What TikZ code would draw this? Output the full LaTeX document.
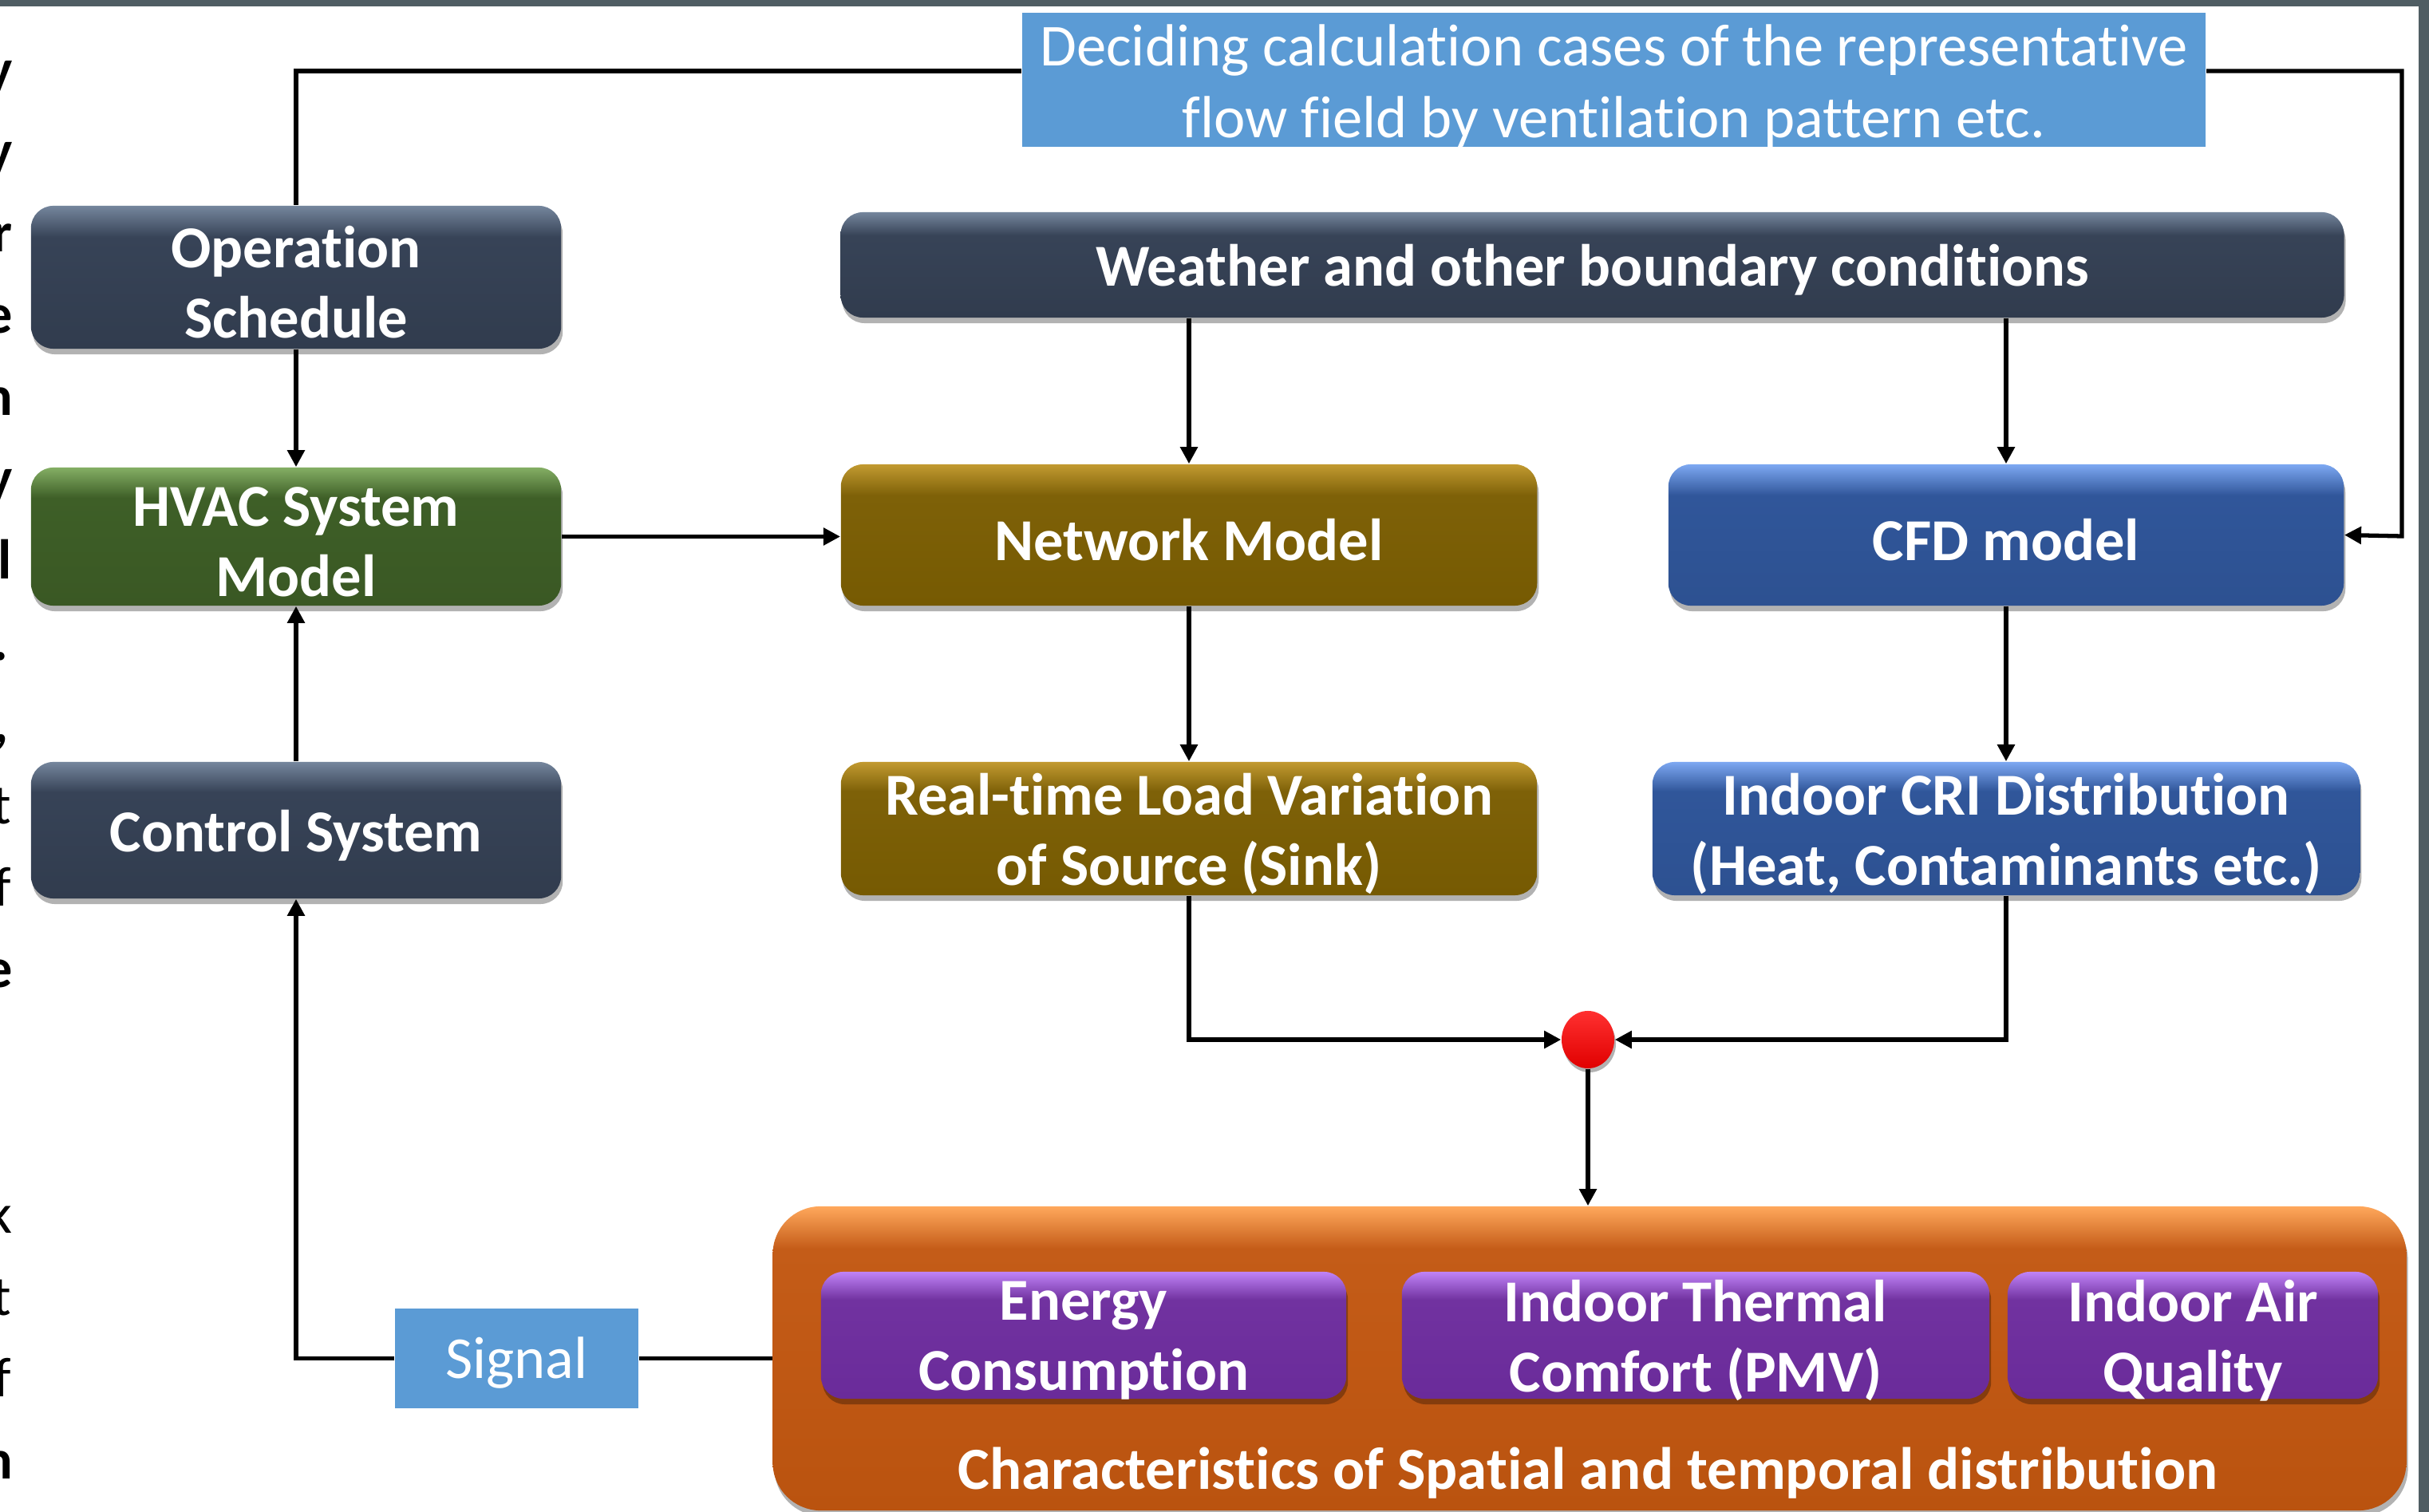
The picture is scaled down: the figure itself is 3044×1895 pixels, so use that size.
\documentclass[tikz,border=0pt]{standalone}
\usepackage{fontspec}
\setmainfont{Carlito}[Ligatures=NoCommon]
\usetikzlibrary{shadows,arrows.meta,shapes.geometric}

\definecolor{slateD}{HTML}{313C4E}
\definecolor{slateM}{HTML}{374357}
\definecolor{slateL}{HTML}{75869D}
\definecolor{greenD}{HTML}{3A5824}
\definecolor{greenM}{HTML}{3E5F27}
\definecolor{greenL}{HTML}{84AE64}
\definecolor{goldD}{HTML}{765A02}
\definecolor{goldM}{HTML}{7E6108}
\definecolor{goldL}{HTML}{C29A30}
\definecolor{blueD}{HTML}{2D5191}
\definecolor{blueM}{HTML}{30569A}
\definecolor{blueL}{HTML}{7DA8F2}
\definecolor{orangeD}{HTML}{BA530F}
\definecolor{orangeM}{HTML}{C45C18}
\definecolor{orangeL}{HTML}{FFA85C}
\definecolor{purpleD}{HTML}{6A2B9A}
\definecolor{purpleM}{HTML}{7132A0}
\definecolor{purpleL}{HTML}{C083F7}
\definecolor{flatblue}{HTML}{5B9BD5}
\definecolor{framegray}{HTML}{4F5D63}
\definecolor{dotL}{HTML}{FF3030}
\definecolor{dotD}{HTML}{E00000}

\pgfdeclareverticalshading{slateSh}{100bp}{color(0bp)=(slateD); color(25bp)=(slateD); color(64bp)=(slateM); color(75bp)=(slateL); color(100bp)=(slateL)}
\pgfdeclareverticalshading{greenSh}{100bp}{color(0bp)=(greenD); color(25bp)=(greenD); color(64bp)=(greenM); color(75bp)=(greenL); color(100bp)=(greenL)}
\pgfdeclareverticalshading{goldSh}{100bp}{color(0bp)=(goldD); color(25bp)=(goldD); color(64bp)=(goldM); color(75bp)=(goldL); color(100bp)=(goldL)}
\pgfdeclareverticalshading{blueSh}{100bp}{color(0bp)=(blueD); color(25bp)=(blueD); color(64bp)=(blueM); color(75bp)=(blueL); color(100bp)=(blueL)}
\pgfdeclareverticalshading{orangeSh}{100bp}{color(0bp)=(orangeD); color(25bp)=(orangeD); color(68bp)=(orangeM); color(75bp)=(orangeL); color(100bp)=(orangeL)}
\pgfdeclareverticalshading{purpleSh}{100bp}{color(0bp)=(purpleD); color(25bp)=(purpleD); color(64bp)=(purpleM); color(75bp)=(purpleL); color(100bp)=(purpleL)}

\begin{document}
\begin{tikzpicture}[x=0.01cm,y=-0.01cm,
  box/.style={rectangle, rounded corners=0.28cm, inner sep=0pt,
    drop shadow={shadow xshift=0.02cm, shadow yshift=-0.07cm, opacity=0.3, fill=black}},
  slatebox/.style={box, shade, shading=slateSh},
  greenbox/.style={box, shade, shading=greenSh},
  goldbox/.style={box, shade, shading=goldSh},
  bluebox/.style={box, shade, shading=blueSh},
  purplebox/.style={box, shade, shading=purpleSh},
  flatbox/.style={rectangle, fill=flatblue, inner sep=0pt},
  btxt/.style={inner sep=0pt, align=center, text=white, yshift=-0.065cm,
    font=\bfseries\fontsize{21.2}{25}\selectfont},
  rtxt/.style={inner sep=0pt, align=center, text=white,
    font=\fontsize{21.2}{25.6}\selectfont},
  conn/.style={line width=1.5pt, draw=black},
  arr/.style={conn, -{Triangle[length=6pt,width=6pt]}},
  frag/.style={anchor=base east, inner sep=0pt, font=\fontsize{20}{22}\selectfont}
]
\useasboundingbox (0,0) rectangle (3044,1895);
\fill[white] (0,0) rectangle (3044,1895);

% frame of the page
\fill[framegray] (0,0) rectangle (3044,8);
\fill[framegray] (3031,0) rectangle (3044,1895);

% cut-off letters of the neighbouring column
\begin{scope}
\clip (0,0) rectangle (60,1895);
\node[frag] (f1) at (17,111) {\bfseries y};
\node[frag] (f2) at (17,213) {\bfseries y};
\node[frag] (f3) at (16,316) {\bfseries r};
\node[frag] (f4) at (17,418) {\bfseries e};
\node[frag] (f5) at (17,521) {\bfseries n};
\node[frag] (f6) at (17,623) {\bfseries y};
\node[frag] (f7) at (15,726) {\bfseries l};
\node[frag] (f8) at (11,828) {\bfseries .};
\node[frag] (f9) at (11,931) {\bfseries ,};
\node[frag] (f10) at (15,1033) {t};
\node[frag] (f11) at (15,1136) {f};
\node[frag] (f12) at (17,1238) {\bfseries e};
\node[frag] (f13) at (16,1546) {k};
\node[frag] (f14) at (15,1648) {t};
\node[frag] (f15) at (15,1751) {f};
\node[frag] (f16) at (17,1853) {\bfseries n};
\end{scope}

% top label
\node[flatbox, minimum width=14.83cm, minimum height=1.68cm] (top) at (2022.5,100) {};
\node[rtxt] (top-t) at (2022.5,108)
  {Deciding calculation cases of the representative\\flow field by ventilation pattern etc.};

% left column
\node[slatebox, minimum width=6.64cm, minimum height=1.79cm] (os) at (371,347.5) {};
\node[greenbox, minimum width=6.64cm, minimum height=1.73cm] (hvac) at (371,672.5) {};
\node[slatebox, minimum width=6.64cm, minimum height=1.71cm] (ctrl) at (371,1040.5) {};
\node[btxt] (os-t) at (os) {Operation\\Schedule};
\node[btxt] (hvac-t) at (hvac) {HVAC System\\Model};
\node[btxt] (ctrl-t) at (ctrl) {Control System};

% right part
\node[slatebox, minimum width=18.83cm, minimum height=1.32cm] (wea) at (1995.5,332) {};
\node[goldbox, minimum width=8.72cm, minimum height=1.77cm] (net) at (1490,670.5) {};
\node[bluebox, minimum width=8.46cm, minimum height=1.77cm] (cfd) at (2514,670.5) {};
\node[goldbox, minimum width=8.72cm, minimum height=1.67cm] (rt) at (1490,1038.5) {};
\node[bluebox, minimum width=8.86cm, minimum height=1.67cm] (cri) at (2514,1038.5) {};
\node[btxt] (wea-t) at (wea) {Weather and other boundary conditions};
\node[btxt] (net-t) at (net) {Network Model};
\node[btxt] (cfd-t) at (cfd) {CFD model};
\node[btxt] (rt-t) at (rt) {Real-time Load Variation\\of Source (Sink)};
\node[btxt] (cri-t) at (cri) {Indoor CRI Distribution\\(Heat, Contaminants etc.)};

% junction dot
\node[ellipse, minimum width=0.66cm, minimum height=0.72cm, inner sep=0pt, top color=dotL, bottom color=dotD,
  drop shadow={shadow xshift=0.02cm, shadow yshift=-0.05cm, opacity=0.3, fill=black}] (dot) at (1990,1303) {};

% result box
\node[box, shade, shading=orangeSh, rounded corners=0.6cm, minimum width=20.46cm, minimum height=3.81cm] (res) at (1992,1702.5) {};
\node[purplebox, minimum width=6.58cm, minimum height=1.59cm] (ec) at (1358,1673.5) {};
\node[purplebox, minimum width=7.36cm, minimum height=1.59cm] (itc) at (2125,1673.5) {};
\node[purplebox, minimum width=4.64cm, minimum height=1.59cm] (iaq) at (2748,1673.5) {};
\node[btxt] (ec-t) at (ec) {Energy\\Consumption};
\node[btxt] (itc-t) at (itc) {Indoor Thermal\\Comfort (PMV)};
\node[btxt] (iaq-t) at (iaq) {Indoor Air\\Quality};
\node[btxt, font=\bfseries\fontsize{21.3}{25}\selectfont] (char) at (1990,1840)
  {Characteristics of Spatial and temporal distribution};

% signal
\node[flatbox, minimum width=3.05cm, minimum height=1.25cm] (sig) at (647.5,1702.5) {};
\node[rtxt, yshift=-0.06cm] (sig-t) at (sig) {Signal};

% connectors
\coordinate (rc) at (3010,672);
\draw[conn] ([yshift=0.11cm]top.west) -| (os.north);
\draw[arr] ([yshift=0.11cm]top.east) -| (rc) -- (cfd.east);
\draw[arr] (os.south) -- (hvac.north);
\draw[arr] (ctrl.north) -- (hvac.south);
\draw[arr] (hvac.east) -- (hvac.east -| net.west);
\draw[arr] (net.north |- wea.south) -- (net.north);
\draw[arr] (cfd.north |- wea.south) -- (cfd.north);
\draw[arr] (net.south) -- (rt.north);
\draw[arr] (cfd.south) -- (cri.north);
\draw[arr] (rt.south) |- (dot.west);
\draw[arr] (cri.south) |- (dot.east);
\draw[arr] (dot.south) -- (dot.south |- res.north);
\draw[conn] (sig.east) -- (sig.east -| res.west);
\draw[arr] (sig.west) -| (ctrl.south);
\end{tikzpicture}
\end{document}
